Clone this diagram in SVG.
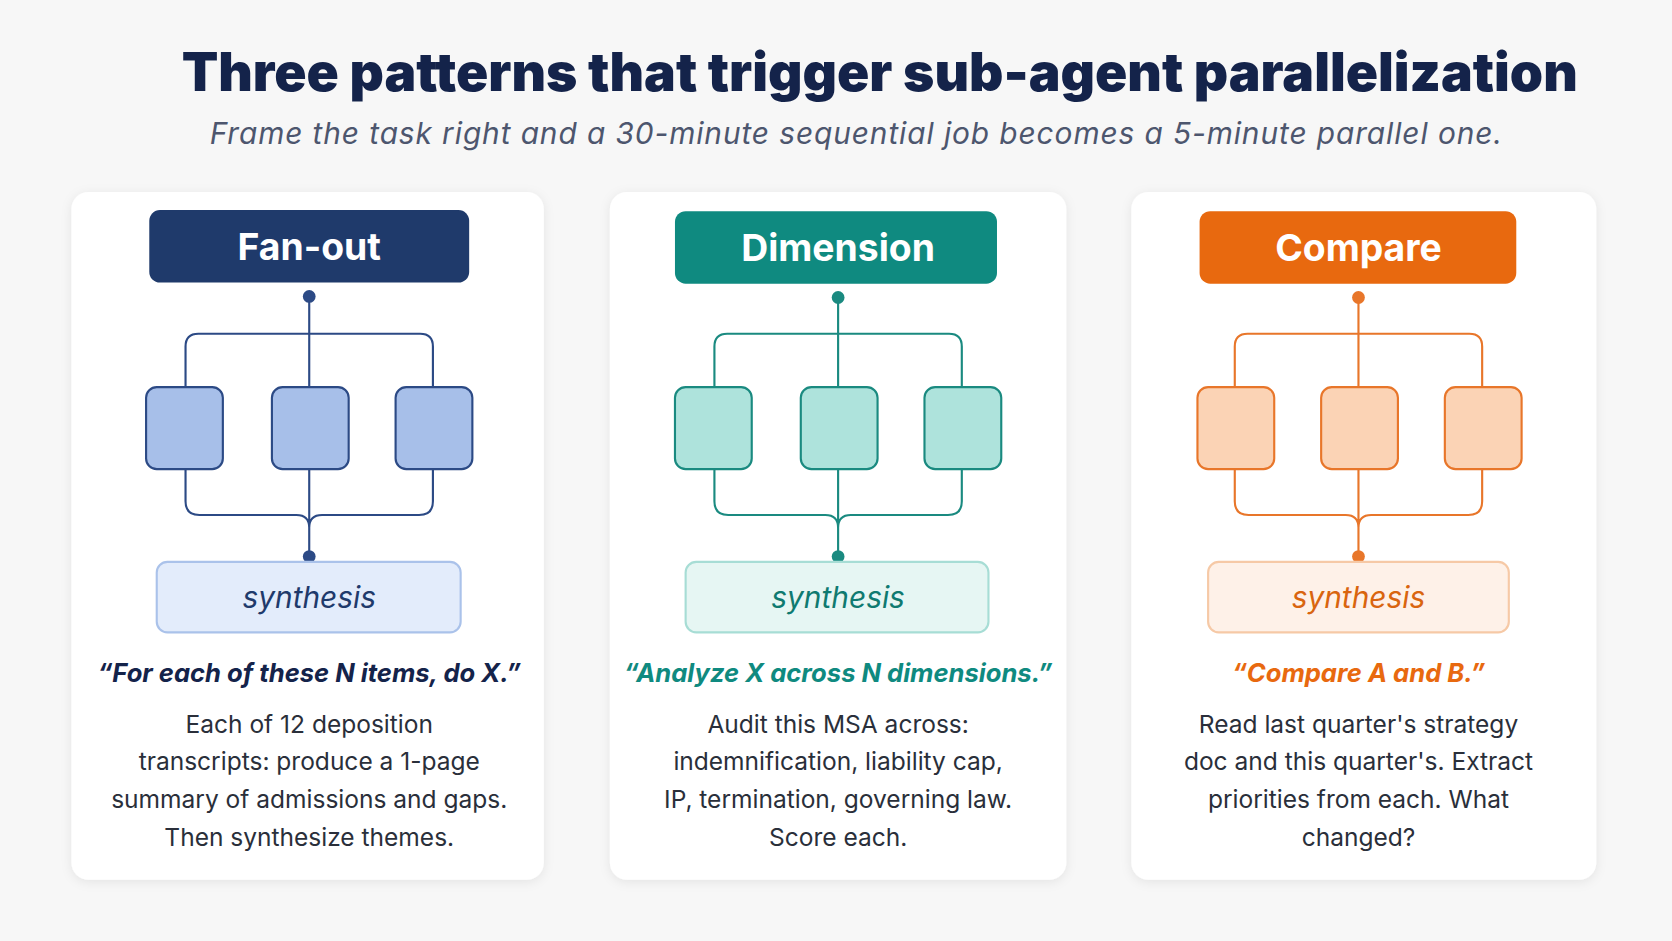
<svg xmlns="http://www.w3.org/2000/svg" width="1672" height="941" viewBox="0 0 1672 941">
<defs>
<filter id="sh" x="-10%" y="-10%" width="120%" height="120%"><feDropShadow dx="0" dy="2" stdDeviation="5" flood-color="#000" flood-opacity="0.08"/></filter>
<style>
.t{font-family:"Inter","Liberation Sans",sans-serif;}
.title{font-weight:900;font-size:50px;fill:#14234a;}
.sub{font-style:italic;font-size:28px;fill:#4d566e;letter-spacing:0.85px;}
.pill{font-weight:700;font-size:35px;fill:#fff;}
.syn{font-style:italic;font-size:28px;}
.q{font-style:italic;font-weight:700;font-size:24px;}
.b{font-size:23px;fill:#2a2f3a;}
.ln{fill:none;stroke-width:2;}
</style>
</defs>
<rect width="1672" height="941" fill="#f7f7f7"/>
<g transform="scale(1.0663)">
<text class="t title" x="825" y="85" text-anchor="middle">Three patterns that trigger sub-agent parallelization</text>
<text class="t sub" x="803" y="135" text-anchor="middle">Frame the task right and a 30-minute sequential job becomes a 5-minute parallel one.</text>

<g id="card-fanout">
<rect x="67" y="180" width="443" height="645" rx="16" fill="#fff" filter="url(#sh)"/>
<rect x="140" y="197" width="300" height="68" rx="10" fill="#1f3a6b"/>
<text class="t pill" x="290" y="244" text-anchor="middle">Fan-out</text>
<g transform="translate(290,0)">
<g class="ln" stroke="#2c4a85">
<path d="M0 278V363M0 313H-104Q-116 313 -116 325V363M0 313H104Q116 313 116 325V363"/>
<path d="M-116 440V470Q-116 483 -103 483H-12Q0 483 0 495M116 440V470Q116 483 103 483H12Q0 483 0 495M0 440V522"/>
</g>
<circle cx="0" cy="278" r="6" fill="#2c4a85"/><circle cx="0" cy="522" r="6" fill="#2c4a85"/>
<g fill="#a7bfe9" stroke="#2c4a85" stroke-width="2">
<rect x="-153" y="363" width="72" height="77" rx="10"/><rect x="-35" y="363" width="72" height="77" rx="10"/><rect x="81" y="363" width="72" height="77" rx="10"/>
</g>
<rect x="-143" y="527" width="285" height="66" rx="10" fill="#e3ecfb" stroke="#aac2ea" stroke-width="2"/>
<text class="t syn" x="0" y="570" text-anchor="middle" fill="#1f3a6b">synthesis</text>
<text class="t q" x="0" y="640" text-anchor="middle" fill="#14234a">“For each of these N items, do X.”</text>
<text class="t b" text-anchor="middle"><tspan x="0" y="687">Each of 12 deposition</tspan><tspan x="0" y="722">transcripts: produce a 1-page</tspan><tspan x="0" y="758">summary of admissions and gaps.</tspan><tspan x="0" y="793">Then synthesize themes.</tspan></text>
</g>
</g>

<g id="card-dimension">
<rect x="572" y="180" width="428" height="645" rx="16" fill="#fff" filter="url(#sh)"/>
<rect x="633" y="198" width="302" height="68" rx="10" fill="#0f8a80"/>
<text class="t pill" x="786" y="245" text-anchor="middle">Dimension</text>
<g transform="translate(786,0)">
<g class="ln" stroke="#1a8a80">
<path d="M0 278V363M0 313H-104Q-116 313 -116 325V363M0 313H104Q116 313 116 325V363"/>
<path d="M-116 440V470Q-116 483 -103 483H-12Q0 483 0 495M116 440V470Q116 483 103 483H12Q0 483 0 495M0 440V522"/>
</g>
<circle cx="0" cy="279" r="6" fill="#1a8a80"/><circle cx="0" cy="522" r="6" fill="#1a8a80"/>
<g fill="#aee3dc" stroke="#1a8a80" stroke-width="2">
<rect x="-153" y="363" width="72" height="77" rx="10"/><rect x="-35" y="363" width="72" height="77" rx="10"/><rect x="81" y="363" width="72" height="77" rx="10"/>
</g>
<rect x="-143" y="527" width="284" height="66" rx="10" fill="#e6f6f3" stroke="#a7ddd5" stroke-width="2"/>
<text class="t syn" x="0" y="570" text-anchor="middle" fill="#0f7a70">synthesis</text>
<text class="t q" x="0" y="640" text-anchor="middle" fill="#0f8a80">“Analyze X across N dimensions.”</text>
<text class="t b" text-anchor="middle"><tspan x="0" y="687">Audit this MSA across:</tspan><tspan x="0" y="722">indemnification, liability cap,</tspan><tspan x="0" y="758">IP, termination, governing law.</tspan><tspan x="0" y="793">Score each.</tspan></text>
</g>
</g>

<g id="card-compare">
<rect x="1061" y="180" width="436" height="645" rx="16" fill="#fff" filter="url(#sh)"/>
<rect x="1125" y="198" width="297" height="68" rx="10" fill="#e8690f"/>
<text class="t pill" x="1274" y="245" text-anchor="middle">Compare</text>
<g transform="translate(1274,0)">
<g class="ln" stroke="#e8762a">
<path d="M0 278V363M0 313H-104Q-116 313 -116 325V363M0 313H104Q116 313 116 325V363"/>
<path d="M-116 440V470Q-116 483 -103 483H-12Q0 483 0 495M116 440V470Q116 483 103 483H12Q0 483 0 495M0 440V522"/>
</g>
<circle cx="0" cy="279" r="6" fill="#e8762a"/><circle cx="0" cy="522" r="6" fill="#e8762a"/>
<g fill="#fbd3b5" stroke="#e8762a" stroke-width="2">
<rect x="-151" y="363" width="72" height="77" rx="10"/><rect x="-35" y="363" width="72" height="77" rx="10"/><rect x="81" y="363" width="72" height="77" rx="10"/>
</g>
<rect x="-141" y="527" width="282" height="66" rx="10" fill="#fef1e8" stroke="#f6c9a6" stroke-width="2"/>
<text class="t syn" x="0" y="570" text-anchor="middle" fill="#d9650f">synthesis</text>
<text class="t q" x="0" y="640" text-anchor="middle" fill="#e8690f">“Compare A and B.”</text>
<text class="t b" text-anchor="middle"><tspan x="0" y="687">Read last quarter's strategy</tspan><tspan x="0" y="722">doc and this quarter's. Extract</tspan><tspan x="0" y="758">priorities from each. What</tspan><tspan x="0" y="793">changed?</tspan></text>
</g>
</g>
</g>
</svg>
